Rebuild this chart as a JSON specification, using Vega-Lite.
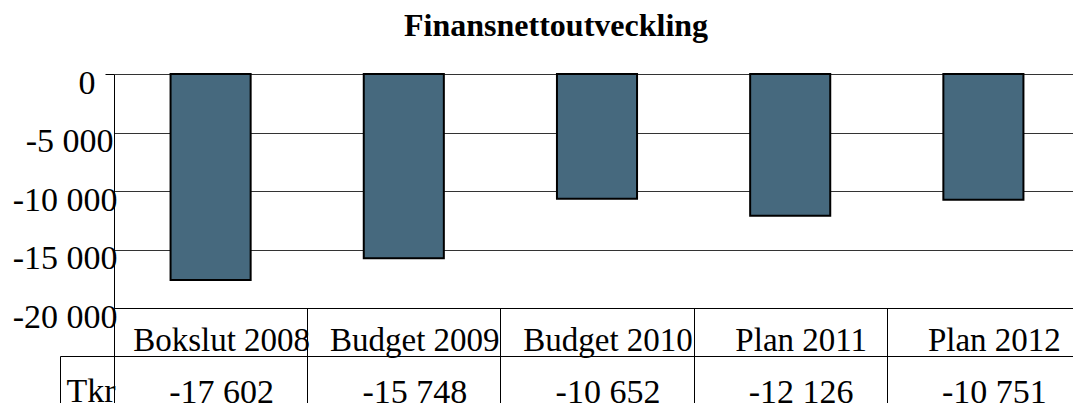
{
  "$schema": "https://vega.github.io/schema/vega-lite/v6.json",
  "padding": {"left": 12, "top": 10, "right": 0, "bottom": 0},
  "spacing": 0,
  "bounds": "flush",
  "resolve": {"scale": {"x": "independent"}},
  "config": {
    "view": {"stroke": null},
    "font": "Liberation Serif"
  },
  "title": {
    "text": "Finansnettoutveckling",
    "font": "Liberation Serif",
    "fontSize": 32,
    "fontWeight": "bold",
    "color": "#000",
    "anchor": "middle",
    "baseline": "alphabetic",
    "offset": -2,
    "dx": 10
  },
  "data": {
    "values": [
      {"kategori": "Bokslut 2008", "tkr": -17602},
      {"kategori": "Budget 2009", "tkr": -15748},
      {"kategori": "Budget 2010", "tkr": -10652},
      {"kategori": "Plan 2011", "tkr": -12126},
      {"kategori": "Plan 2012", "tkr": -10751}
    ]
  },
  "vconcat": [
    {
      "width": 966,
      "height": 234,
      "mark": {"type": "bar", "fill": "#46697e", "stroke": "#000", "strokeWidth": 2},
      "encoding": {
        "x": {
          "field": "kategori", "type": "nominal", "sort": null, "axis": null,
          "scale": {"paddingInner": 0.5855, "paddingOuter": 0.29275}
        },
        "y": {
          "field": "tkr", "type": "quantitative",
          "scale": {"domain": [-20000, 0], "nice": false, "zero": false},
          "axis": {
            "values": [0, -5000, -10000, -15000, -20000],
            "labelExpr": "(datum.value < 0 ? '-' : '') + replace(format(abs(datum.value), ','), ',', ' ')",
            "title": null,
            "grid": true, "gridColor": "#333", "gridWidth": 1,
            "domainColor": "#000", "domainWidth": 1,
            "tickColor": "#000", "tickSize": 9,
            "tickOpacity": {"condition": {"test": "datum.value === 0", "value": 1}, "value": 0},
            "labelFont": "Liberation Serif", "labelFontSize": 34, "labelColor": "#000",
            "labelBaseline": "alphabetic", "labelOffset": 19, "labelAlign": "right",
            "labelPadding": {"condition": [{"test": "datum.value === 0", "value": 10}, {"test": "datum.value === -5000", "value": -8}], "value": -12},
            "labelOverlap": false, "labelBound": false, "labelFlush": false
          }
        }
      }
    },
    {
      "width": 966,
      "height": 96,
      "layer": [
        {
          "mark": {"type": "text", "font": "Liberation Serif", "fontSize": 33, "color": "#000", "baseline": "alphabetic", "dx": 11, "dy": 19, "clip": true},
          "encoding": {
            "x": {
              "field": "kategori", "type": "nominal", "sort": null,
              "scale": {"paddingInner": 0, "paddingOuter": 0},
              "axis": {"grid": true, "gridColor": "#000", "gridWidth": 1, "tickBand": "extent", "ticks": false, "labels": false, "domain": false, "title": null}
            },
            "y": {
              "datum": "Kategori", "type": "nominal",
              "scale": {"type": "band", "domain": ["Kategori", "Tkr"], "paddingInner": 0, "paddingOuter": 0},
              "axis": {
                "title": null, "offset": 54, "bandPosition": 0,
                "grid": true, "gridColor": "#000", "gridWidth": 1,
                "domainColor": "#000", "domainDash": [0, 48, 100],
                "ticks": true, "tickSize": -54, "tickColor": "#000",
                "tickOpacity": {"condition": {"test": "datum.value === 'Tkr'", "value": 1}, "value": 0},
                "labelExpr": "datum.value === 'Tkr' ? 'Tkr' : ''",
                "labelAlign": "left", "labelBaseline": "alphabetic", "labelOffset": 22, "labelPadding": 48,
                "labelFont": "Liberation Serif", "labelFontSize": 34, "labelColor": "#000"
              }
            },
            "text": {"field": "kategori"}
          }
        },
        {
          "mark": {
            "type": "text", "font": "Liberation Serif", "fontSize": 34, "color": "#000", "baseline": "alphabetic", "dx": 11, "dy": 23, "clip": true,
            "text": {"expr": "(datum.tkr < 0 ? '-' : '') + replace(format(abs(datum.tkr), ','), ',', ' ')"}
          },
          "encoding": {
            "x": {"field": "kategori", "type": "nominal", "sort": null},
            "y": {"datum": "Tkr", "type": "nominal"}
          }
        }
      ]
    }
  ]
}
